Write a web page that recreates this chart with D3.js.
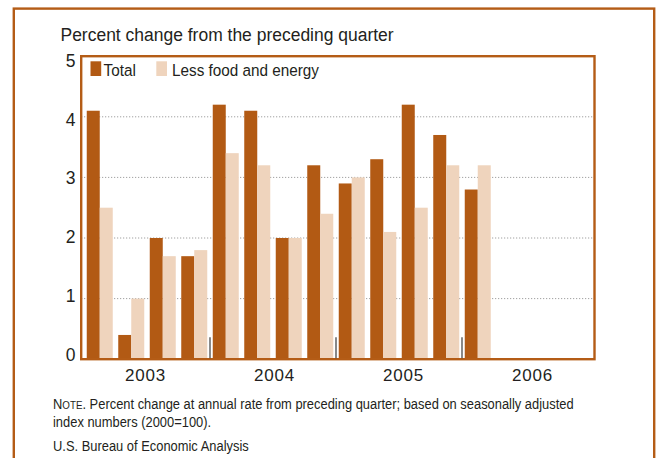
<!DOCTYPE html>
<html><head><meta charset="utf-8">
<script src="https://cdn.jsdelivr.net/npm/d3@7"></script>
<style>
body{margin:0;background:#fff}
svg{display:block}
text{font-family:"Liberation Sans",Arial,Helvetica,sans-serif;fill:#231f20}
</style>
</head><body>
<svg id="chart" width="657" height="458"></svg>
<script>
// ---- data ----
const quarters = ["2003Q1","2003Q2","2003Q3","2003Q4","2004Q1","2004Q2","2004Q3","2004Q4",
                  "2005Q1","2005Q2","2005Q3","2005Q4","2006Q1","2006Q2","2006Q3","2006Q4"];
const years = ["2003","2004","2005","2006"];
const seriesNames = ["Total","Less food and energy"];
const totalValues = [4.1,0.4,2.0,1.7, 4.2,4.1,2.0,3.2, 2.9,3.3,4.2,3.7, 2.8];
const lessFoodEnergyValues = [2.5,1.0,1.7,1.8, 3.4,3.2,2.0,2.4, 3.0,2.1,2.5,3.2, 3.2];
const yTicks = [0,1,2,3,4,5];
const gridTicks = [1,2,3,4];
const titleText = "Percent change from the preceding quarter";
const noteRest = ". Percent change at annual rate from preceding quarter; based on seasonally adjusted";
const noteLine2 = "index numbers (2000=100).";
const sourceText = "U.S. Bureau of Economic Analysis";

// ---- style ----
const DARK = "#b25a14", LIGHT = "#efd4bd", BORDER = "#b45c16";
const colors = d3.scaleOrdinal(seriesNames, [DARK, LIGHT]);
const frame = {l:81.2, r:594.5, t:56.2, b:359.2};

const svg = d3.select("#chart");

// outer panel border
svg.append("rect").attr("x",13.8).attr("y",8.6).attr("width",640.4).attr("height",520)
  .attr("fill","none").attr("stroke",BORDER).attr("stroke-width",2.4);

// scales
const y = d3.scaleLinear([0,5],[frame.b, frame.t]);
const yLab = d3.scaleLinear([0,5],[360.7, 66.7]);
const xq = d3.scaleBand(quarters,[84,588]);
const xs = d3.scaleBand(seriesNames,[0,xq.bandwidth()]).paddingInner(0).paddingOuter(0.2115);
const xy = d3.scaleBand(years,[81,597]);

// gridlines
svg.append("g").selectAll("line").data(gridTicks).join("line")
  .attr("x1",frame.l).attr("x2",frame.r)
  .attr("y1",d=>y(d)).attr("y2",d=>y(d))
  .attr("stroke","#8c8c8c").attr("stroke-width",1).attr("stroke-dasharray","1,2");

// bars
const rows = quarters.map((q,i)=>({q, vals:[
  {s:seriesNames[0], v:totalValues[i]},
  {s:seriesNames[1], v:lessFoodEnergyValues[i]}
].filter(d=>d.v!=null)}));
const g = svg.append("g");
g.selectAll("g").data(rows).join("g")
  .attr("transform",d=>`translate(${xq(d.q)},0)`)
  .selectAll("rect").data(d=>d.vals).join("rect")
  .attr("x",d=>xs(d.s)).attr("width",xs.bandwidth())
  .attr("y",d=>y(d.v)).attr("height",d=>y(0)-y(d.v))
  .attr("fill",d=>colors(d.s));

// frame
svg.append("rect").attr("x",frame.l).attr("y",frame.t)
  .attr("width",frame.r-frame.l).attr("height",frame.b-frame.t)
  .attr("fill","none").attr("stroke",BORDER).attr("stroke-width",2.4);

// year separator ticks
svg.append("g").selectAll("line").data(years.slice(1)).join("line")
  .attr("x1",d=>xq(d+"Q1")).attr("x2",d=>xq(d+"Q1"))
  .attr("y1",y(0)-1).attr("y2",y(0)-22)
  .attr("stroke","#3a3a3a").attr("stroke-width",1.2);

function condensed(sel, x, yy, sx){
  return sel.attr("transform",`translate(${x},${yy}) scale(${sx},1)`);
}

// title
condensed(svg.append("text").text(titleText).attr("font-size",18.8), 60.5, 40.5, 0.93);

// y tick labels
svg.append("g").selectAll("text").data(yTicks).join("text")
  .attr("x",75.5).attr("y",d=>yLab(d)).attr("text-anchor","end")
  .attr("font-size",17.5).text(d=>d);

// year labels
svg.append("g").selectAll("text").data(years).join("text")
  .attr("x",d=>xy(d)+xy.bandwidth()/2).attr("y",380.7).attr("text-anchor","middle")
  .attr("font-size",17).attr("letter-spacing",0.8).text(d=>d);

// legend
const legX = [90.5, 156.3], legTX = [103.5, 172];
seriesNames.forEach((s,i)=>{
  svg.append("rect").attr("x",legX[i]).attr("y",61.3).attr("width",10.7).attr("height",14.7)
    .attr("fill",colors(s));
  condensed(svg.append("text").text(s).attr("font-size",17), legTX[i], 75.7, 0.9);
});

// note
const note = condensed(svg.append("text").attr("font-size",14.5), 53, 409, 0.89);
note.append("tspan").text("N");
note.append("tspan").attr("font-size",11).text("OTE");
note.append("tspan").text(noteRest);
condensed(svg.append("text").attr("font-size",14.5).text(noteLine2), 53, 426.5, 0.89);
condensed(svg.append("text").attr("font-size",14.5).text(sourceText), 53, 451, 0.89);
</script>
</body></html>
